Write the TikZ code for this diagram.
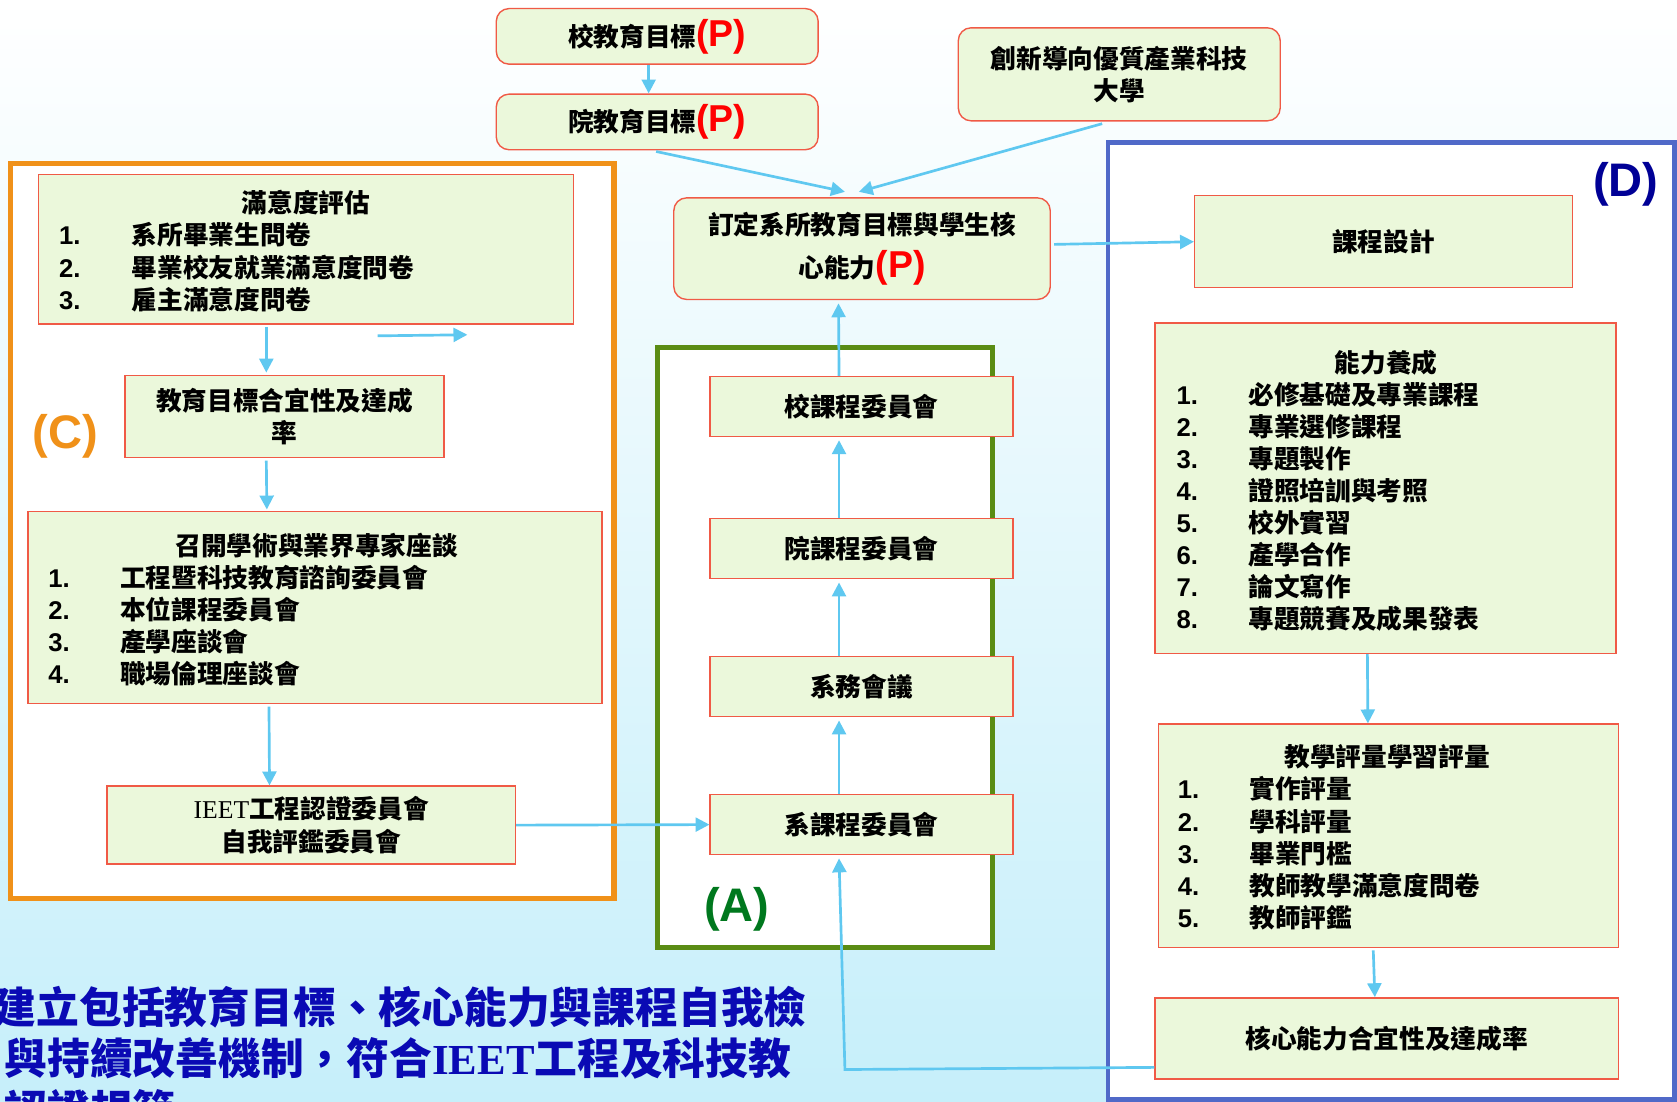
\documentclass[tikz,border=0pt]{standalone}
\usepackage{fontspec}
\setmainfont{Liberation Sans}
\newfontfamily\cjk{Noto Sans CJK TC}
\newfontfamily\tnr{Liberation Serif}
\usetikzlibrary{arrows.meta,calc}
\definecolor{boxfill}{RGB}{235,248,219}
\definecolor{boxline}{RGB}{240,90,70}
\definecolor{arrc}{RGB}{95,200,240}
\definecolor{corange}{RGB}{240,145,25}
\definecolor{cgreen}{RGB}{90,140,20}
\definecolor{cblue}{RGB}{80,105,200}
\definecolor{lgreen}{RGB}{0,120,30}
\definecolor{ldblue}{RGB}{0,0,150}
\definecolor{txtblue}{RGB}{10,10,180}
\definecolor{bgbot}{RGB}{198,239,250}
\definecolor{bgmid}{RGB}{240,250,254}
\newcommand\pmark{{\rmfamily\bfseries\fontsize{35}{35}\selectfont\color{red}(P)}}
\begin{document}
\begin{tikzpicture}[x=1pt,y=-1pt,
  box/.style={draw=boxline, fill=boxfill, line width=1.3pt, inner sep=0pt, align=center, font=\cjk\bfseries\fontsize{24}{30}\selectfont, text=black},
  rbox/.style={box, rounded corners=12pt},
  frame/.style={line width=5pt, fill=white},
  arr/.style={draw=arrc, line width=2.5pt, -{Triangle[length=13pt,width=13pt]}},
  lbl/.style={font=\bfseries\fontsize{44}{44}\selectfont, inner sep=0pt},
  itm/.style={font=\cjk\bfseries\fontsize{24}{24}\selectfont, anchor=base west, inner sep=0pt},
  num/.style={font=\bfseries\fontsize{24}{24}\selectfont, anchor=base west, inner sep=0pt},
  hd/.style={font=\cjk\bfseries\fontsize{24}{24}\selectfont, anchor=base, inner sep=0pt},
  bottomtxt/.style={anchor=base west, inner sep=0pt, font=\cjk\bfseries\fontsize{40}{40}\selectfont, text=txtblue},
]
\useasboundingbox (0,0) rectangle (1568,1030);
\shade[top color=white, middle color=bgmid, bottom color=bgbot] (0,0) rectangle (1568,1030);

% containers
\draw[frame, draw=corange] (10,153) rectangle (574,840);
\draw[frame, draw=cgreen] (615,325) rectangle (928,886);
\draw[line width=4.5pt, fill=white, draw=cblue] (1036,133) rectangle (1566,1028);

\node[lbl, text=corange] (labC) at (61,408) {(C)};
\node[lbl, text=lgreen] (labA) at (689,850) {(A)};
\node[lbl, text=ldblue] (labD) at (1520,172) {(D)};

% boxes
\node[rbox, minimum width=301pt, minimum height=52pt] (g1) at (614.5,34) {校教育目標\pmark};
\node[rbox, minimum width=301pt, minimum height=52pt] (g2) at (614.5,114) {院教育目標\pmark};
\node[rbox, minimum width=301pt, minimum height=87pt] (univ) at (1046.5,69.5) {創新導向優質產業科技\\大學};
\node[rbox, minimum width=352pt, minimum height=95pt, font=\cjk\bfseries\fontsize{24}{40}\selectfont] (goal) at (806,232.5) {訂定系所教育目標與學生核\\心能力\pmark};
\node[box, minimum width=353pt, minimum height=86pt] (design) at (1293.5,226) {課程設計};

\node[box, minimum width=500pt, minimum height=140pt] (sat) at (286,233) {};
\node[box, minimum width=298pt, minimum height=77pt] (rate) at (266,389.5) {教育目標合宜性及達成\\率};
\node[box, minimum width=537pt, minimum height=180pt] (sem) at (294.5,568) {};
\node[box, minimum width=382pt, minimum height=73pt] (ieet) at (291,771.5) {{\tnr\mdseries IEET}工程認證委員會\\自我評鑑委員會};

\node[box, minimum width=283pt, minimum height=56pt] (c1) at (805.5,380) {校課程委員會};
\node[box, minimum width=283pt, minimum height=56pt] (c2) at (805.5,513) {院課程委員會};
\node[box, minimum width=283pt, minimum height=56pt] (c3) at (805.5,642) {系務會議};
\node[box, minimum width=283pt, minimum height=56pt] (sys) at (805.5,771) {系課程委員會};

\node[box, minimum width=431pt, minimum height=309pt] (abil) at (1295.5,456.5) {};
\node[box, minimum width=430pt, minimum height=209pt] (eval) at (1298,781.5) {};
\node[box, minimum width=433pt, minimum height=76pt] (core) at (1296.5,971) {核心能力合宜性及達成率};

% list contents
\node[hd] (satH) at (286,199) {滿意度評估};
\foreach \i/\t in {1/系所畢業生問卷,2/畢業校友就業滿意度問卷,3/雇主滿意度問卷}{
  \node[num] (satN\i) at (55,{199+30*\i}) {\i.};
  \node[itm] (satT\i) at (123,{199+30*\i}) {\t};
}
\node[hd] (semH) at (296,519) {召開學術與業界專家座談};
\foreach \i/\t in {1/工程暨科技教育諮詢委員會,2/本位課程委員會,3/產學座談會,4/職場倫理座談會}{
  \node[num] (semN\i) at (45,{519+30*\i}) {\i.};
  \node[itm] (semT\i) at (112,{519+30*\i}) {\t};
}
\node[hd] (abilH) at (1296,348) {能力養成};
\foreach \i/\t in {1/必修基礎及專業課程,2/專業選修課程,3/專題製作,4/證照培訓與考照,5/校外實習,6/產學合作,7/論文寫作,8/專題競賽及成果發表}{
  \node[num] (abilN\i) at (1100,{348+30*\i}) {\i.};
  \node[itm] (abilT\i) at (1167,{348+30*\i}) {\t};
}
\node[hd] (evalH) at (1297,717) {教學評量學習評量};
\foreach \i/\t in {1/實作評量,2/學科評量,3/畢業門檻,4/教師教學滿意度問卷,5/教師評鑑}{
  \node[num] (evalN\i) at (1101,{717+30*\i}) {\i.};
  \node[itm] (evalT\i) at (1168,{717+30*\i}) {\t};
}

% connectors
\draw[arr] ($(g1.south)+(-8,0)$) -- ($(g2.north)+(-8,0)$);
\draw[arr] ($(g2.south)+(-1,1)$) -- ($(goal.north)+(-16,-5)$);
\draw[arr] ($(univ.south)+(-16,2)$) -- ($(goal.north)+(-3,-5)$);
\draw[arr] ($(goal.east)+(3,-4)$) -- (design.west);
\draw[arr] ($(c1.north)+(-21,0)$) -- ($(goal.south)+(-22,3)$);
\draw[arr] ($(c2.north)+(-21,0)$) -- ($(c1.south)+(-21,3)$);
\draw[arr] ($(c3.north)+(-21,0)$) -- ($(c2.south)+(-21,3)$);
\draw[arr] ($(sys.north)+(-21,0)$) -- ($(c3.south)+(-21,3)$);
\draw[arr] (ieet.east) -- (sys.west);
\coordinate (bend) at (790,1000);
\draw[arr] ($(core.west)+(0,27)$) -- (bend) -- ($(sys.south)+(-21,3)$);
\draw[arr] ($(sat.south)+(-37,2)$) -- ($(rate.north)+(-17,-2)$);
\coordinate (s1) at (353,314);
\coordinate (s2) at (437,313);
\draw[arr] (s1) -- (s2);
\draw[arr] ($(rate.south)+(-17,2)$) -- ($(sem.north)+(-45,-1)$);
\draw[arr] ($(sem.south)+(-43,2)$) -- ($(ieet.north)+(-39,0)$);
\draw[arr] ($(abil.south)+(-17,0)$) -- ($(eval.north)+(-19,0)$);
\draw[arr] ($(eval.south)+(-14,2)$) -- ($(core.north)+(-11,0)$);

% bottom text
\node[bottomtxt] (bt1) at (-6,957) {建立包括教育目標、核心能力與課程自我檢};
\node[bottomtxt] (bt2) at (4,1005) {與持續改善機制，符合{\tnr\bfseries IEET}工程及科技教};
\node[bottomtxt] (bt3) at (4,1053) {認證規範};
\end{tikzpicture}
\end{document}
